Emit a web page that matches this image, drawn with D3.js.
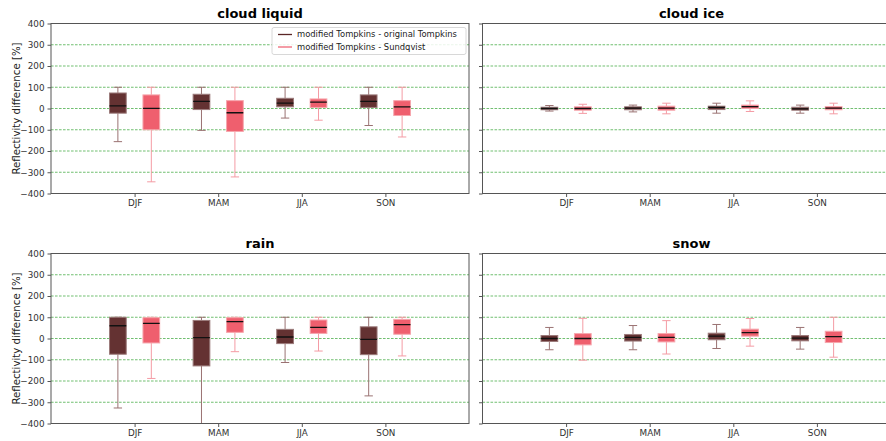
<!DOCTYPE html>
<html>
<head>
<meta charset="utf-8">
<script src="https://cdn.jsdelivr.net/npm/d3@7"></script>
<style>
  body { margin: 0; background: #fff; }
  svg { display: block; font-family: "DejaVu Sans", sans-serif; }
</style>
</head>
<body>
<svg id="chart" width="886" height="441"></svg>
<script>
// seasons on the x axis
let seasons = ["DJF", "MAM", "JJA", "SON"];
let yTicks = [-400, -300, -200, -100, 0, 100, 200, 300, 400];
let gridValues = [-300, -200, -100, 0, 100, 200, 300];
let seriesNames = ["modified Tompkins - original Tompkins", "modified Tompkins - Sundqvist"];

// each entry: [whisker low, q1, median, q3, whisker high]
let cloudLiquidOrig = [[-156, -22, 12, 73, 100], [-103, -5, 34, 67, 100], [-45, 8, 25, 48, 100], [-80, 5, 34, 64, 100]];
let cloudLiquidSund = [[-345, -100, 1, 64, 100], [-322, -108, -20, 37, 100], [-55, 5, 30, 45, 100], [-134, -33, 8, 37, 100]];

let cloudIceOrig = [[-12, -6, 0, 6, 14], [-16, -6, 2, 8, 16], [-22, -5, 5, 11, 25], [-22, -8, -2, 6, 16]];
let cloudIceSund = [[-23, -8, 0, 8, 20], [-25, -8, 2, 11, 25], [-14, 0, 9, 16, 36], [-25, -6, 2, 9, 25]];

let rainOrig = [[-327, -74, 60, 100, 100], [-430, -129, 4, 85, 100], [-113, -24, 7, 43, 100], [-270, -76, -4, 55, 100]];
let rainSund = [[-188, -21, 71, 98, 100], [-62, 29, 79, 98, 100], [-59, 24, 52, 87, 100], [-82, 20, 65, 90, 100]];

let snowOrig = [[-53, -14, 0, 14, 52], [-53, -12, 5, 19, 61], [-47, -6, 11, 25, 66], [-50, -11, 2, 14, 52]];
let snowSund = [[-102, -30, 0, 23, 95], [-73, -16, 5, 23, 84], [-36, 11, 28, 44, 94], [-88, -19, 9, 34, 100]];

let panels = [
  { title: "cloud liquid", orig: cloudLiquidOrig, sund: cloudLiquidSund, col: 0, row: 0, legend: true },
  { title: "cloud ice", orig: cloudIceOrig, sund: cloudIceSund, col: 1, row: 0 },
  { title: "rain", orig: rainOrig, sund: rainSund, col: 0, row: 1 },
  { title: "snow", orig: snowOrig, sund: snowSund, col: 1, row: 1 }
];

let colLeft = [51, 482.5];
let rowTop = [23.5, 253.5];
let panelWidth = 418;
let panelHeight = 170;

let styles = [
  { fill: "#643232", edge: "#9c7b7b", whisker: "#9a7272", legend: "#5a2626" },
  { fill: "#ef5f6e", edge: "#f6a6ad", whisker: "#f49ba4", legend: "#ee6676" }
];

let svg = d3.select("#chart");

panels.forEach((p, pi) => {
  let g = svg.append("g")
    .attr("transform", `translate(${colLeft[p.col]},${rowTop[p.row]})`);

  let x = d3.scaleLinear().domain([0, 5]).range([0, panelWidth]);
  let y = d3.scaleLinear().domain([-400, 400]).range([panelHeight, 0]);

  g.append("clipPath").attr("id", "clip" + pi)
    .append("rect").attr("width", panelWidth).attr("height", panelHeight);

  // grid
  g.append("g").selectAll("line")
    .data(gridValues)
    .enter()
    .append("line")
    .attr("x1", 0).attr("x2", panelWidth)
    .attr("y1", d => y(d)).attr("y2", d => y(d))
    .attr("stroke", "#2ca02c")
    .attr("stroke-opacity", 0.85)
    .attr("stroke-width", 0.8)
    .attr("stroke-dasharray", "2.6,1.4");

  let plot = g.append("g").attr("clip-path", `url(#clip${pi})`);

  [p.orig, p.sund].forEach((series, si) => {
    let st = styles[si];
    let offset = si == 0 ? -0.2 : 0.2;
    let boxW = x(0.2) - x(0);
    let capW = boxW / 2;
    series.forEach((d, i) => {
      let cx = x(i + 1 + offset);
      let [lo, q1, med, q3, hi] = d;
      let bg = plot.append("g");
      // whiskers
      bg.append("line")
        .attr("x1", cx).attr("x2", cx)
        .attr("y1", y(q1)).attr("y2", y(lo))
        .attr("stroke", st.whisker).attr("stroke-width", 1);
      bg.append("line")
        .attr("x1", cx).attr("x2", cx)
        .attr("y1", y(q3)).attr("y2", y(hi))
        .attr("stroke", st.whisker).attr("stroke-width", 1);
      // caps
      [lo, hi].forEach(v => {
        bg.append("line")
          .attr("x1", cx - capW / 2).attr("x2", cx + capW / 2)
          .attr("y1", y(v)).attr("y2", y(v))
          .attr("stroke", st.whisker).attr("stroke-width", 1);
      });
      bg.append("rect")
        .attr("x", cx - boxW / 2)
        .attr("y", y(q3))
        .attr("width", boxW)
        .attr("height", Math.max(y(q1) - y(q3), 0.5))
        .attr("fill", st.fill)
        .attr("stroke", st.edge)
        .attr("stroke-width", 1);
      bg.append("line")
        .attr("x1", cx - boxW / 2).attr("x2", cx + boxW / 2)
        .attr("y1", y(med)).attr("y2", y(med))
        .attr("stroke", "#111").attr("stroke-width", 1.3);
    });
  });

  // axes
  let yAxis = d3.axisLeft(y).tickValues(yTicks).tickSize(3.5).tickPadding(3);
  if (p.col == 1) yAxis.tickFormat("");
  let yG = g.append("g").call(yAxis);

  let xAxis = d3.axisBottom(x).tickValues([1, 2, 3, 4])
    .tickFormat(d => seasons[d - 1]).tickSize(3.5).tickPadding(3);
  let xG = g.append("g").attr("transform", `translate(0,${panelHeight})`).call(xAxis);

  [yG, xG].forEach(a => {
    a.select(".domain").remove();
    a.selectAll("line").attr("stroke", "#555");
    a.selectAll("text").attr("fill", "#333").style("font-size", "8.8px")
      .style("font-family", "DejaVu Sans");
  });

  // frame
  g.append("rect")
    .attr("width", panelWidth).attr("height", panelHeight)
    .attr("fill", "none").attr("stroke", "#555").attr("stroke-width", 1);

  g.append("text")
    .attr("x", panelWidth / 2).attr("y", -6)
    .attr("text-anchor", "middle")
    .style("font-size", "13px").style("font-weight", "bold")
    .attr("fill", "#000")
    .text(p.title);

  if (p.col == 0) {
    g.append("text")
      .attr("transform", `translate(${16 - colLeft[0]},${panelHeight / 2}) rotate(-90)`)
      .attr("text-anchor", "middle")
      .attr("dy", "0.35em")
      .style("font-size", "10.2px")
      .attr("fill", "#222")
      .text("Reflectivity difference [%]");
  }

  if (p.legend) {
    let lg = g.append("g").attr("transform", `translate(${272 - colLeft[0]},${27.5 - rowTop[0]})`);
    lg.append("rect")
      .attr("width", 194).attr("height", 27).attr("rx", 2)
      .attr("fill", "#fff").attr("fill-opacity", 0.85)
      .attr("stroke", "#d8d8d8").attr("stroke-width", 1);
    seriesNames.forEach((name, i) => {
      let ly = 7 + i * 12.5;
      lg.append("line")
        .attr("x1", 6).attr("x2", 20)
        .attr("y1", ly).attr("y2", ly)
        .attr("stroke", styles[i].legend).attr("stroke-width", 1.3);
      lg.append("text")
        .attr("x", 25).attr("y", ly).attr("dy", "0.35em")
        .style("font-size", "8.4px").attr("fill", "#222")
        .text(name);
    });
  }
});
</script>
</body>
</html>
